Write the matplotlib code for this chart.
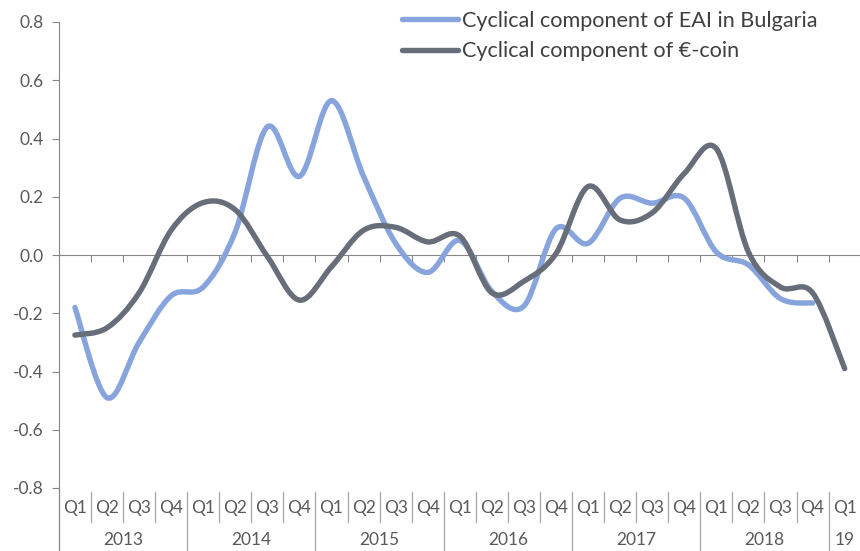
import numpy as np
import matplotlib.pyplot as plt
from matplotlib.path import Path
from matplotlib.patches import PathPatch
from matplotlib.lines import Line2D
from matplotlib.transforms import blended_transform_factory

plt.rcParams['font.family'] = ['Lato', 'DejaVu Sans']

# quarterly data, 2013 Q1 .. 2019 Q1
quarters = ['Q1', 'Q2', 'Q3', 'Q4'] * 6 + ['Q1']
years = ['2013', '2014', '2015', '2016', '2017', '2018', '19']
eai = [-0.18, -0.49, -0.30, -0.14, -0.11, 0.08, 0.44, 0.27, 0.53, 0.27, 0.04, -0.06,
       0.05, -0.125, -0.175, 0.09, 0.04, 0.195, 0.178, 0.195, 0.01, -0.034, -0.15, -0.165]
ecoin = [-0.275, -0.25, -0.13, 0.085, 0.18, 0.155, -0.005, -0.155, -0.04, 0.085, 0.095, 0.045,
         0.065, -0.13, -0.09, 0.005, 0.235, 0.12, 0.145, 0.28, 0.365, 0.01, -0.11, -0.13, -0.39]
labels = ['Cyclical component of EAI in Bulgaria', 'Cyclical component of €-coin']
colors = ['#87a5dc', '#676d79']


def smooth_path(y):
    # Excel-like smoothed line: cubic bezier segments with Catmull-Rom control points
    x = np.arange(len(y), dtype=float)
    p = np.column_stack([x, np.asarray(y, dtype=float)])
    verts = [p[0]]
    codes = [Path.MOVETO]
    n = len(p)
    for i in range(n - 1):
        p0 = p[i - 1] if i > 0 else p[i]
        p3 = p[i + 2] if i + 2 < n else p[i + 1]
        c1 = p[i] + (p[i + 1] - p0) / 6.0
        c2 = p[i + 1] - (p3 - p[i]) / 6.0
        verts += [c1, c2, p[i + 1]]
        codes += [Path.CURVE4] * 3
    return Path(verts, codes)


fig = plt.figure(figsize=(8.6, 5.51), dpi=100)
ax = fig.add_axes([58.9 / 860, 1 - 488 / 551, 801.8 / 860, (488 - 22) / 551])

for series, col in zip([eai, ecoin], colors):
    patch = PathPatch(smooth_path(series), fill=False, edgecolor=col, lw=3.9,
                      capstyle='round', joinstyle='round', zorder=3)
    ax.add_patch(patch)

yt = np.round(np.arange(-0.8, 0.81, 0.2), 1)
ax.set_xlim(-0.5, len(quarters) - 0.5)
ax.set_ylim(-0.8, 0.8)
ax.set_yticks(yt)
ax.set_yticklabels([f'{v + 0.0:.1f}' for v in yt])

for s in ['top', 'right']:
    ax.spines[s].set_visible(False)
ax.spines['bottom'].set_position(('data', 0))
ax.spines['bottom'].set_color('#868686')
ax.spines['left'].set_color('#868686')
ax.set_xticks(np.arange(0.5, len(quarters) - 1, 1.0))
ax.tick_params(axis='x', direction='out', length=5, color='#868686', labelbottom=False)
ax.tick_params(axis='y', direction='out', length=5, color='#868686', labelsize=12.5,
               labelcolor='#595959', pad=6)

# category axis labels below the plot
tr = blended_transform_factory(ax.transData, fig.transFigure)
fy = lambda px: 1 - px / 551
for i, q in enumerate(quarters):
    ax.text(i, fy(508), q, transform=tr, ha='center', va='center', fontsize=12.5, color='#595959')
year_pos = [1.5, 5.5, 9.5, 13.5, 17.5, 21.5, 24]
for yp, yr in zip(year_pos, years):
    ax.text(yp, fy(540), yr, transform=tr, ha='center', va='center', fontsize=12.5, color='#595959')

sep = '#a6a6a6'
for b in np.arange(0.5, len(quarters) - 1, 1.0):
    is_year = (b + 0.5) % 4 == 0
    ax.plot([b, b], [fy(492), fy(551 if is_year else 522)], transform=tr, color=sep,
            lw=0.9, clip_on=False)
ax.plot([-0.5, -0.5], [fy(488), fy(551)], transform=tr, color='#868686', lw=0.9, clip_on=False)

handles = [Line2D([], [], color=c, lw=3.9, solid_capstyle='round') for c in colors]
ax.legend(handles, labels, loc='upper left', bbox_to_anchor=(402 / 860, 1 - 11 / 551),
          bbox_transform=fig.transFigure, frameon=False, fontsize=15.6, handlelength=2.6,
          handletextpad=0.18, borderpad=0, borderaxespad=0, labelspacing=0.48,
          labelcolor='#404040')

fig.savefig('out.png', dpi=100)
